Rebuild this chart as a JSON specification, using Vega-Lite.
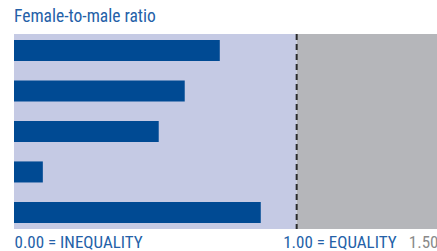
{
  "$schema": "https://vega.github.io/schema/vega-lite/v6.json",
  "autosize": "none",
  "width": 424,
  "height": 195,
  "padding": {"left": 14, "top": 34, "right": 0, "bottom": 22},
  "background": "white",
  "title": {"text": "Female-to-male ratio", "anchor": "start", "frame": "group", "offset": 8, "fontSize": 17.5, "fontWeight": "normal", "font": "Liberation Sans Narrow, Roboto Condensed, sans-serif", "color": "#2461a8"},
  "config": {"view": {"stroke": null}},
  "datasets": {
    "bars": [
      {"group": "A", "ratio": 0.728},
      {"group": "B", "ratio": 0.604},
      {"group": "C", "ratio": 0.512},
      {"group": "D", "ratio": 0.102},
      {"group": "E", "ratio": 0.873}
    ],
    "zones": [
      {"start": 0, "end": 1, "zone": "inequality"},
      {"start": 1, "end": 1.5, "zone": "above"}
    ],
    "ref": [{"x": 1}]
  },
  "layer": [
    {
      "data": {"name": "zones"},
      "mark": {"type": "rect"},
      "encoding": {
        "x": {"field": "start", "type": "quantitative", "scale": {"domain": [0, 1.5], "nice": false}, "axis": {"values": [0, 1, 1.5], "domain": false, "ticks": false, "grid": false, "title": null, "labelFontSize": 17, "labelFont": "Liberation Sans Narrow, Roboto Condensed, sans-serif", "labelPadding": 5, "labelBaseline": "top", "labelExpr": "datum.value == 0 ? '0.00 = INEQUALITY' : datum.value == 1 ? '1.00 = EQUALITY' : '1.50'", "labelColor": {"condition": {"test": "datum.value > 1.2", "value": "#8a8a8a"}, "value": "#2461a8"}, "labelAlign": {"condition": {"test": "datum.value > 1.2", "value": "right"}, "value": "left"}, "labelOffset": {"condition": {"test": "datum.value == 1", "value": -14}, "value": 0}, "labelFlush": false, "labelOverlap": false}},
        "x2": {"field": "end"},
        "color": {"field": "zone", "type": "nominal", "scale": {"domain": ["inequality", "above"], "range": ["#c5cae4", "#b5b6ba"]}, "legend": null}
      }
    },
    {
      "data": {"name": "bars"},
      "mark": {"type": "bar", "color": "#004a93"},
      "encoding": {
        "y": {"field": "group", "type": "nominal", "sort": null, "scale": {"paddingInner": 0.48, "paddingOuter": 0.15}, "axis": null},
        "x": {"field": "ratio", "type": "quantitative"}
      }
    },
    {
      "data": {"name": "ref"},
      "mark": {"type": "rule", "color": "#2b2b2b", "strokeWidth": 2, "strokeDash": [6, 4]},
      "encoding": {"x": {"field": "x", "type": "quantitative"}}
    }
  ]
}
